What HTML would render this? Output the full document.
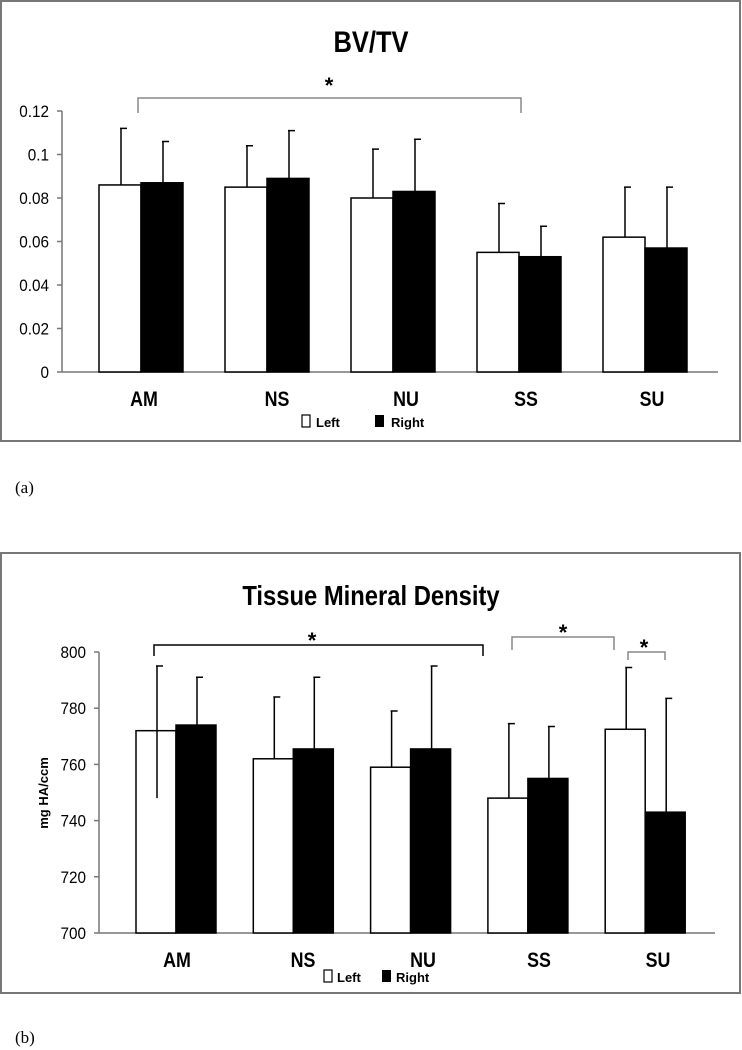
<!DOCTYPE html>
<html><head><meta charset="utf-8"><style>
html,body{margin:0;padding:0;background:#fff;}
svg{display:block;font-family:"Liberation Sans",sans-serif;}
</style></head><body>
<svg id="svg" width="742" height="1050" viewBox="0 0 742 1050">
<rect x="1" y="1" width="739" height="440" fill="none" stroke="#777" stroke-width="2"/>
<text x="371" y="52" font-size="30" font-weight="bold" text-anchor="middle" transform="translate(371 0) scale(0.85 1) translate(-371 0)">BV/TV</text>
<text x="15" y="493" font-size="17" font-family="Liberation Serif,serif">(a)</text>
<rect x="1" y="553" width="739" height="440" fill="none" stroke="#777" stroke-width="2"/>
<text x="371" y="605" font-size="28" font-weight="bold" text-anchor="middle" transform="translate(371 0) scale(0.85 1) translate(-371 0)">Tissue Mineral Density</text>
<text x="15" y="1043" font-size="17" font-family="Liberation Serif,serif">(b)</text>
<g id="ga"></g><g id="gb"></g>
</svg>
<script>
const categories = ["AM","NS","NU","SS","SU"];
const aLeft = [0.086,0.085,0.080,0.055,0.062];
const aRight = [0.087,0.089,0.083,0.053,0.057];
const aLeftErr = [0.112,0.104,0.1025,0.0775,0.085];
const aRightErr = [0.106,0.111,0.107,0.067,0.085];
const aTicks = ["0","0.02","0.04","0.06","0.08","0.1","0.12"];
const aTickVals = [0,0.02,0.04,0.06,0.08,0.1,0.12];
const bLeft = [772,762,759,748,772.5];
const bRight = [774,765.5,765.5,755,743];
const bLeftErr = [795,784,779,774.5,794.5];
const bLeftLow = [748,null,null,null,null];
const bRightErr = [791,791,795,773.5,783.5];
const bTicks = ["700","720","740","760","780","800"];
const bTickVals = [700,720,740,760,780,800];
const NS='http://www.w3.org/2000/svg';
function mk(parent,tag,attrs){const e=document.createElementNS(NS,tag);for(const k in attrs)e.setAttribute(k,attrs[k]);parent.appendChild(e);return e;}
function draw(g,cfg){
  const y=v=>cfg.y0+(v-cfg.vmin)/(cfg.vmax-cfg.vmin)*(cfg.y1-cfg.y0);
  const cx=i=>cfg.c0+cfg.step*i;
  let ax=mk(g,'line',{x1:cfg.ax,y1:y(cfg.vmax),x2:cfg.ax,y2:cfg.y0,stroke:'#777','stroke-width':1.5});
  
  let bx=mk(g,'line',{x1:cfg.ax,y1:cfg.y0,x2:cfg.axEnd,y2:cfg.y0,stroke:'#777','stroke-width':1.5});
  
  cfg.tv.forEach((v,i)=>{
    let t=mk(g,'line',{x1:cfg.ax-5,y1:y(v),x2:cfg.ax,y2:y(v),stroke:'#777','stroke-width':1.5});
    
    const tx=cfg.ax-13;
    let l=mk(g,'text',{x:tx,y:y(v)+6,'font-size':17,'text-anchor':'end',transform:`translate(${tx} 0) scale(0.9 1) translate(${-tx} 0)`});l.textContent=cfg.tl[i];
    
  });
  categories.forEach((c,i)=>{
    const x=cx(i),w=cfg.bw;
    [[cfg.L,cfg.LE,'#fff',x-w,'left'],[cfg.R,cfg.RE,'#000',x,'right']].forEach(([vals,errs,fill,x0,s])=>{
      let r=mk(g,'rect',{x:x0,y:y(vals[i]),width:w,height:cfg.y0-y(vals[i]),fill:fill,stroke:'#000','stroke-width':1.5});
      
      const ex=x0+w/2+1;
      let low=vals[i];
      if(s==='left'&&cfg.LL&&cfg.LL[i]!=null)low=cfg.LL[i];
      let e=mk(g,'path',{d:`M${ex} ${y(low)}V${y(errs[i])}M${ex-1} ${y(errs[i])}H${ex+6}`,stroke:'#000','stroke-width':1.5,fill:'none'});
      
    });
    let l=mk(g,'text',{x:cfg.lx[i],y:cfg.ly,'font-size':21,'font-weight':'bold','text-anchor':'middle',transform:`translate(${cfg.lx[i]} 0) scale(0.85 1) translate(${-cfg.lx[i]} 0)`});l.textContent=c;
    
  });
}
draw(document.getElementById('ga'),{p:'a',y0:372,y1:111,vmin:0,vmax:0.12,ax:62,axEnd:718,c0:141,step:126,bw:42,L:aLeft,R:aRight,LE:aLeftErr,RE:aRightErr,tv:aTickVals,tl:aTicks,lx:[144,277,406,526,652],ly:406});
draw(document.getElementById('gb'),{p:'b',y0:933,y1:652,vmin:700,vmax:800,ax:99,axEnd:715,c0:176,step:117.3,bw:40,L:bLeft,R:bRight,LE:bLeftErr,RE:bRightErr,LL:bLeftLow,tv:bTickVals,tl:bTicks,lx:[177,303,423,539,658],ly:967});
const svg=document.getElementById('svg');
function add(tag,attrs,name,txt){const e=mk(svg,tag,attrs);if(txt)e.textContent=txt;return e;}
add('path',{d:'M138 113V98H521V113',stroke:'#888','stroke-width':1.5,fill:'none'},'significance-bracket-a');
add('text',{x:329,y:93,'font-size':22,'font-weight':'bold','text-anchor':'middle'},'significance-star-a','*');
add('path',{d:'M154 656V645H483V656',stroke:'#000','stroke-width':1.5,fill:'none'},'significance-bracket-b1');
add('text',{x:312,y:648,'font-size':22,'font-weight':'bold','text-anchor':'middle'},'significance-star-b1','*');
add('path',{d:'M512 650V637H614V650',stroke:'#888','stroke-width':1.5,fill:'none'},'significance-bracket-b2');
add('text',{x:563,y:640,'font-size':22,'font-weight':'bold','text-anchor':'middle'},'significance-star-b2','*');
add('path',{d:'M628 660V652H665V660',stroke:'#888','stroke-width':1.5,fill:'none'},'significance-bracket-b3');
add('text',{x:644,y:655,'font-size':22,'font-weight':'bold','text-anchor':'middle'},'significance-star-b3','*');
add('text',{x:48,y:793,'font-size':13,'font-weight':'bold','text-anchor':'middle',transform:'rotate(-90 48 793)'},'y-axis-title-b','mg HA/ccm');
add('rect',{x:302,y:415,width:8,height:12,fill:'#fff',stroke:'#000','stroke-width':1.2},'legend-a-left-swatch');
add('text',{x:316,y:427,'font-size':13,'font-weight':'bold'},'legend-a-left','Left');
add('rect',{x:375,y:415,width:9,height:12,fill:'#000'},'legend-a-right-swatch');
add('text',{x:391,y:427,'font-size':13,'font-weight':'bold'},'legend-a-right','Right');
add('rect',{x:324,y:970,width:8,height:12,fill:'#fff',stroke:'#000','stroke-width':1.2},'legend-b-left-swatch');
add('text',{x:337,y:982,'font-size':13,'font-weight':'bold'},'legend-b-left','Left');
add('rect',{x:382,y:970,width:9,height:12,fill:'#000'},'legend-b-right-swatch');
add('text',{x:396,y:982,'font-size':13,'font-weight':'bold'},'legend-b-right','Right');
</script>
</body></html>
